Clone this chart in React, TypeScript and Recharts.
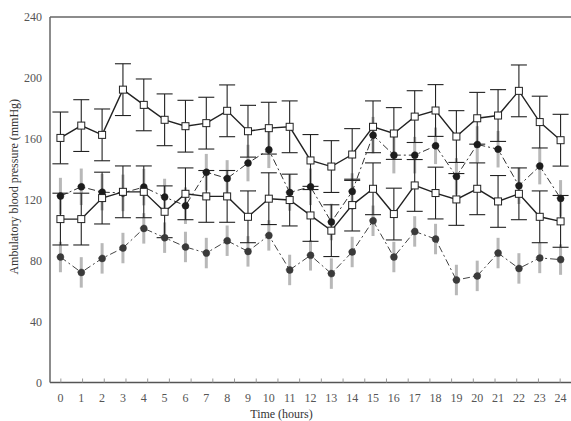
import React from 'react';
import { LineChart, Line, XAxis, YAxis, ErrorBar, ReferenceLine } from 'recharts';

// hours of the day
const hours = [0, 1, 2, 3, 4, 5, 6, 7, 8, 9, 10, 11, 12, 13, 14, 15, 16, 17, 18, 19, 20, 21, 22, 23, 24];
const yTicks = [0, 40, 80, 120, 160, 200, 240];
const minorTicks = [0.5, 1.5, 2.5, 3.5, 4.5, 5.5, 6.5, 7.5, 8.5, 9.5, 10.5, 11.5, 12.5, 13.5, 14.5, 15.5, 16.5, 17.5, 18.5, 19.5, 20.5, 21.5, 22.5, 23.5];

// open squares, solid line (systolic / diastolic)
const sysA = [160.6, 168.7, 162.6, 192.3, 182.3, 172.5, 168.3, 170.3, 178.4, 165, 167, 167.9, 145.8, 141.8, 149.7, 167.9, 163.5, 174.6, 178.6, 161.5, 173.5, 175.3, 191.5, 171, 159.1];
const sysAsd = [17, 17, 17, 17, 17, 17, 17, 17, 17, 17, 17, 17, 17, 17, 17, 17, 17, 17, 17, 17, 17, 17, 17, 17, 17];
const diaA = [107.3, 107.3, 121.1, 125.2, 125.2, 112.1, 123.9, 122.2, 122.2, 108.8, 120.7, 119.8, 109.7, 99.7, 116.5, 127.2, 110.6, 129.4, 124.4, 120.2, 127.2, 118.9, 123.9, 108.8, 105.8];
const diaAsd = [17, 17, 17, 17, 17, 17, 17, 17, 17, 17, 17, 17, 17, 17, 17, 17, 17, 17, 17, 17, 17, 17, 17, 17, 17];

// filled circles, dash-dot line
const sysB = [122.4, 128.5, 125, 124.5, 128.3, 121.8, 116.1, 138.1, 134, 144.1, 152.8, 124.8, 128.5, 105.4, 125.4, 162.4, 149.3, 149.3, 155.4, 135.3, 156.3, 153.2, 129.2, 142.1, 120.9];
const sysBsd = [12, 12, 12, 12, 12, 12, 12, 12, 12, 12, 12, 12, 12, 12, 12, 12, 12, 12, 12, 12, 12, 12, 12, 12, 12];
const diaB = [82.4, 72.3, 81.5, 88.3, 101.2, 95.1, 89, 85, 93.1, 86.1, 96.6, 73.9, 83.5, 71.5, 85.7, 106.2, 82.4, 99.2, 94.2, 67.3, 70, 85, 74.9, 81.8, 80.7];
const diaBsd = [10, 10, 10, 10, 10, 10, 10, 10, 10, 10, 10, 10, 10, 10, 10, 10, 10, 10, 10, 10, 10, 10, 10, 10, 10];

const data = hours.map((hour, i) => ({
  hour,
  sysA: sysA[i],
  sysAsd: sysAsd[i],
  diaA: diaA[i],
  diaAsd: diaAsd[i],
  sysB: sysB[i],
  sysBsd: sysBsd[i],
  diaB: diaB[i],
  diaBsd: diaBsd[i],
}));

const font = '"Liberation Serif", "DejaVu Serif", serif';
const textColor = '#555';

const SquareDot = (props: any) => {
  const { cx, cy, index } = props;
  if (cx == null || cy == null) return <g key={`sq-${index}`} />;
  return <rect key={`sq-${index}`} x={cx - 3.5} y={cy - 3.5} width={7} height={7} fill='#fff' stroke='#222' strokeWidth={1} />;
};

const empty = () => <g />;

export default function App() {
  return (
    <div style={{ position: 'fixed', left: 0, top: 0, width: 571, height: 421, background: '#fff' }}>
      <LineChart width={571} height={421} data={data} margin={{ top: 17, right: 0, bottom: 0, left: 0 }}>
        <XAxis
          dataKey='hour'
          type='number'
          domain={[-0.5, 24.5]}
          ticks={hours}
          interval={0}
          height={38.5}
          tickLine={false}
          tickSize={0}
          tickMargin={11}
          axisLine={{ stroke: '#555', strokeWidth: 1.5 }}
          tick={{ fill: textColor, fontSize: 12, fontFamily: font }}
          label={{ value: 'Time (hours)', position: 'insideBottom', offset: 3, dx: -29, fill: '#333', fontSize: 12, fontFamily: font }}
        />
        <XAxis
          xAxisId='minor'
          type='number'
          domain={[-0.5, 24.5]}
          ticks={minorTicks}
          interval={0}
          mirror
          axisLine={false}
          tickSize={4}
          tickLine={{ stroke: '#999' }}
          tick={empty}
        />
        <YAxis
          type='number'
          domain={[0, 240]}
          ticks={yTicks}
          width={50}
          tickLine={false}
          tickSize={0}
          tickMargin={8}
          axisLine={{ stroke: '#666', strokeWidth: 1.5 }}
          tick={{ fill: textColor, fontSize: 12, fontFamily: font }}
          label={{
            value: 'Ambulatory blood pressure (mmHg)',
            angle: -90,
            position: 'insideLeft',
            offset: 14,
            dy: -13,
            style: { textAnchor: 'middle' },
            fill: '#333',
            fontSize: 12,
            fontFamily: font,
          }}
        />
        <YAxis
          yAxisId='minor'
          type='number'
          domain={[0, 240]}
          ticks={yTicks}
          mirror
          axisLine={false}
          tickSize={4}
          tickLine={{ stroke: '#999' }}
          tick={empty}
        />
        <ReferenceLine y={240} stroke='#666' strokeWidth={1.5} />

        <Line
          dataKey='diaB'
          stroke='#444'
          strokeWidth={1}
          strokeDasharray='7 3 2 3'
          dot={{ r: 3.5, fill: '#3a3a3a', stroke: '#3a3a3a', strokeWidth: 0.5 }}
          isAnimationActive={false}
        >
          <ErrorBar dataKey='diaBsd' width={0} stroke='#b8b8b8' strokeWidth={3} direction='y' />
        </Line>
        <Line
          dataKey='sysB'
          stroke='#333'
          strokeWidth={1}
          strokeDasharray='7 3 2 3'
          dot={{ r: 3.5, fill: '#1c1c1c', stroke: '#1c1c1c', strokeWidth: 0.5 }}
          isAnimationActive={false}
        >
          <ErrorBar dataKey='sysBsd' width={0} stroke='#b8b8b8' strokeWidth={3} direction='y' />
        </Line>
        <Line dataKey='diaA' stroke='#222' strokeWidth={1.4} dot={SquareDot} isAnimationActive={false}>
          <ErrorBar dataKey='diaAsd' width={8} stroke='#222' strokeWidth={1.1} direction='y' />
        </Line>
        <Line dataKey='sysA' stroke='#222' strokeWidth={1.4} dot={SquareDot} isAnimationActive={false}>
          <ErrorBar dataKey='sysAsd' width={8} stroke='#222' strokeWidth={1.1} direction='y' />
        </Line>
      </LineChart>
    </div>
  );
}
